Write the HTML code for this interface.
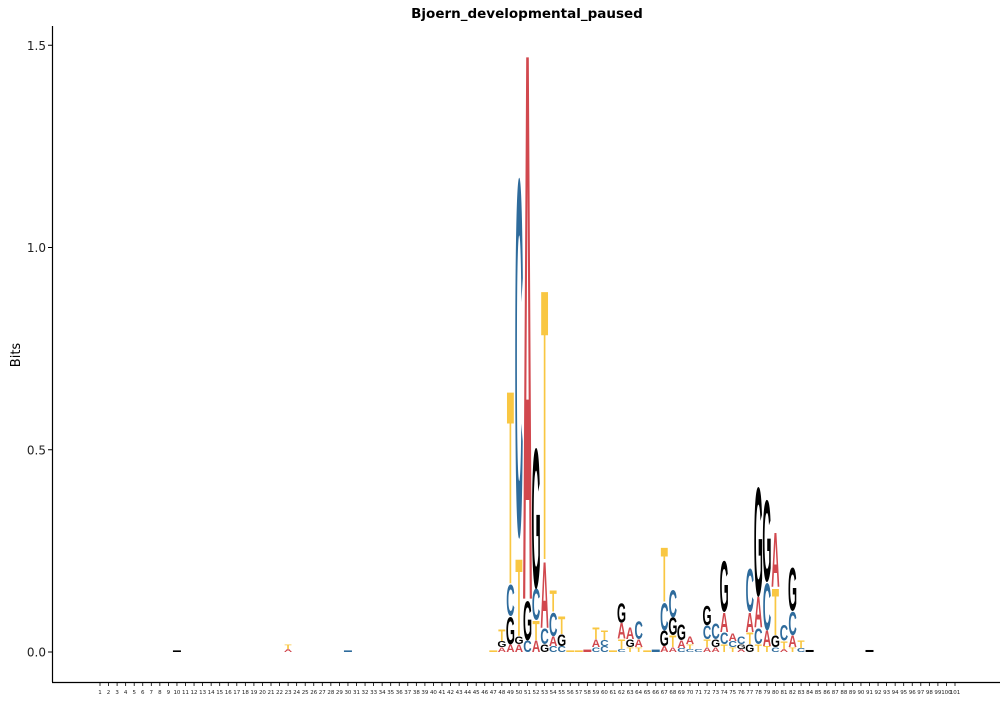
<!DOCTYPE html>
<html><head><meta charset="utf-8"><style>
html,body{margin:0;padding:0;background:#fff;width:1008px;height:720px;overflow:hidden;}
svg{display:block;font-family:"DejaVu Sans","Liberation Sans",sans-serif;}
</style></head><body>
<svg id="chart" width="1008" height="720" viewBox="0 0 1008 720" xmlns="http://www.w3.org/2000/svg">
<text x="527" y="18" text-anchor="middle" font-size="13.5" font-weight="bold" fill="#000">Bjoern_developmental_paused</text>
<text transform="translate(20,355) rotate(-90)" text-anchor="middle" font-size="13" fill="#000">Bits</text>
<line x1="52.5" y1="26" x2="52.5" y2="682" stroke="#000" stroke-width="1.2"/>
<line x1="52" y1="682.5" x2="1000" y2="682.5" stroke="#000" stroke-width="1.2"/>
<g id="yticks"></g><g id="xticks"></g><g id="logo"></g>
</svg>
<script>
const positions = [];
for (let i = 1; i <= 101; i++) positions.push(i);
const yTickValues = [0.0, 0.5, 1.0, 1.5];
const yTickLabels = ["0.0", "0.5", "1.0", "1.5"];
// stacks: position -> [letter, bits] bottom to top
const stackPositions = [10, 23, 30, 47, 48, 49, 50, 51, 52, 53, 54, 55, 56, 57, 58, 59, 60, 61, 62, 63, 64, 65, 66, 67, 68, 69, 70, 71, 72, 73, 74, 75, 76, 77, 78, 79, 80, 81, 82, 83, 84, 91];
const stackLetters = [
 ["G"], ["A","T"], ["C"], ["T"], ["A","G","T"],
 ["A","G","C","T"], ["A","G","T","C"], ["C","G","A"], ["A","T","C","G"], ["G","C","A","T"],
 ["C","A","C","T"], ["C","G","T"], ["T"], ["T"], ["A"],
 ["C","A","T"], ["C","C","T"], ["T"], ["C","T","A","G"], ["T","G","A"],
 ["T","A","C"], ["T"], ["C"], ["A","G","C","T"], ["A","T","G","C"],
 ["C","A","G"], ["C","T","A"], ["C"], ["A","T","C","G"], ["A","G","C"],
 ["T","C","A","G"], ["T","C","A"], ["A","G","C"], ["G","T","A","C"], ["T","C","A","G"],
 ["T","A","C","G"], ["C","G","T","A"], ["A","T","C"], ["T","A","C","G"], ["C","T"],
 ["G"], ["G"]
];
const stackBits = [
 [0.004], [0.008,0.012], [0.004], [0.004], [0.012,0.015,0.03],
 [0.02,0.07,0.08,0.5], [0.02,0.02,0.2,0.92], [0.03,0.1,1.34], [0.03,0.05,0.08,0.36], [0.02,0.04,0.17,0.7],
 [0.015,0.025,0.06,0.055], [0.015,0.03,0.045], [0.004], [0.004], [0.006],
 [0.012,0.02,0.03], [0.015,0.015,0.025], [0.004], [0.008,0.025,0.04,0.05], [0.012,0.02,0.03],
 [0.012,0.02,0.045], [0.004], [0.006], [0.015,0.04,0.07,0.14], [0.012,0.03,0.045,0.07],
 [0.01,0.02,0.04], [0.008,0.012,0.02], [0.008], [0.012,0.02,0.035,0.05], [0.012,0.02,0.04],
 [0.02,0.03,0.05,0.13], [0.012,0.015,0.02], [0.008,0.012,0.02], [0.02,0.03,0.05,0.11], [0.02,0.04,0.08,0.28],
 [0.015,0.04,0.12,0.21], [0.012,0.03,0.12,0.14], [0.008,0.02,0.04], [0.012,0.03,0.06,0.11], [0.01,0.02],
 [0.005], [0.005]
];
const colors = {A:"#d1484e", C:"#2e6b9c", G:"#000000", T:"#f9c742"};
const NS = "http://www.w3.org/2000/svg";
function xScale(p){ return 100 + (p - 1) * 8.55; }
function yScale(v){ return 652 - v * 404.5; }
const yt = document.getElementById("yticks");
yTickValues.forEach((v, i) => {
  const y = yScale(v);
  const l = document.createElementNS(NS, "line");
  l.setAttribute("x1", 48); l.setAttribute("x2", 52); l.setAttribute("y1", y); l.setAttribute("y2", y);
  l.setAttribute("stroke", "#000");
  
  
  yt.appendChild(l);
  const t = document.createElementNS(NS, "text");
  t.setAttribute("x", 46); t.setAttribute("y", y + 4.5); t.setAttribute("text-anchor", "end");
  t.setAttribute("font-size", "12"); t.setAttribute("fill", "#222");
  t.textContent = yTickLabels[i];
  
  
  yt.appendChild(t);
});
const xt = document.getElementById("xticks");
positions.forEach(p => {
  const x = xScale(p);
  const l = document.createElementNS(NS, "line");
  l.setAttribute("x1", x); l.setAttribute("x2", x); l.setAttribute("y1", 683); l.setAttribute("y2", 686);
  l.setAttribute("stroke", "#000"); l.setAttribute("stroke-width", "0.8");
  
  
  xt.appendChild(l);
  const t = document.createElementNS(NS, "text");
  t.setAttribute("x", x); t.setAttribute("y", 694); t.setAttribute("text-anchor", "middle");
  t.setAttribute("font-size", "5.5"); t.setAttribute("fill", "#222");
  t.textContent = String(p);
  
  
  xt.appendChild(t);
});
const logo = document.getElementById("logo");
stackPositions.forEach((p, si) => {
  const xc = xScale(p);
  let cum = 0;
  stackLetters[si].forEach((ch, li) => {
    const h = stackBits[si][li];
    const yb = yScale(cum);
    const hp = h * 404.5;
    cum += h;
    if (hp < 2.5) {
      const r = document.createElementNS(NS, "rect");
      r.setAttribute("x", xc - 4); r.setAttribute("y", yb - Math.max(hp, 1)); r.setAttribute("width", 8); r.setAttribute("height", Math.max(hp, 1));
      r.setAttribute("fill", colors[ch]);
      
      
      logo.appendChild(r);
      return;
    }
    const t = document.createElementNS(NS, "text");
    const sx = 8.6 / 74;
    const sy = hp / 73;
    const flip = sy > 3 && (ch === "A" || ch === "C");
    if (flip) {
      // render upside-down so the font's descent area stays inside the frame
      t.setAttribute("transform", "translate(" + xc + "," + (yb - hp) + ") scale(" + sx + "," + (-sy) + ")");
      t.textContent = ch === "A" ? "\u2200" : "C";
      t.setAttribute("font-family", ch === "A" ? "DejaVu Sans, sans-serif" : "Liberation Sans, sans-serif");
    } else {
      t.setAttribute("transform", "translate(" + xc + "," + yb + ") scale(" + sx + "," + sy + ")");
      t.textContent = ch;
      t.setAttribute("font-family", "Liberation Sans, sans-serif");
    }
    t.setAttribute("text-anchor", "middle");
    t.setAttribute("font-size", "100");
    t.setAttribute("font-weight", "bold");
    t.setAttribute("fill", colors[ch]);
    
    
    logo.appendChild(t);
  });
});
</script>
</body></html>
